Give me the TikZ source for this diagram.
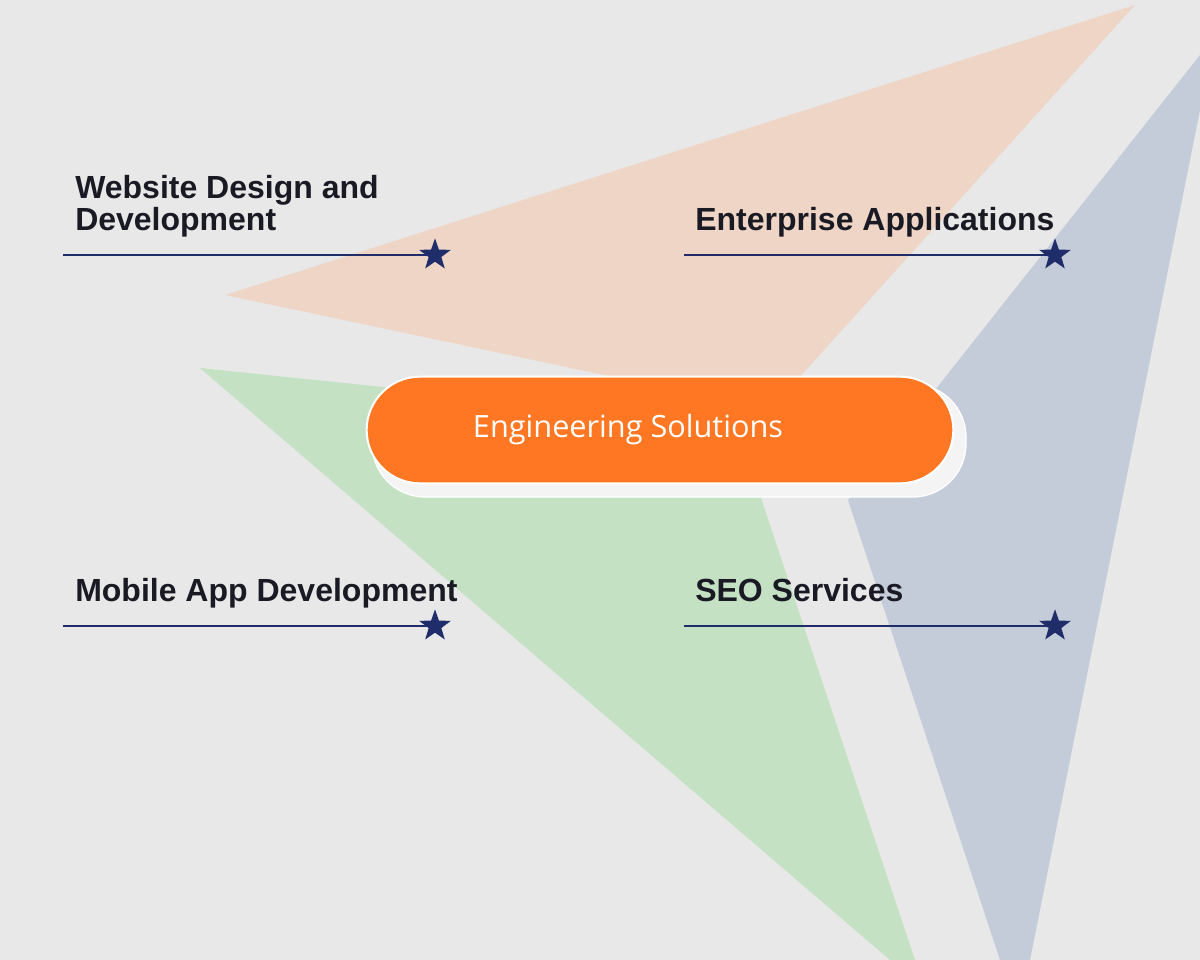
\documentclass[tikz,border=0pt]{standalone}
\usepackage{fontspec}
\setmainfont{Liberation Sans}
\newfontfamily\pillfont{Open Sans}
\usetikzlibrary{shapes.geometric}
\definecolor{bg}{HTML}{E8E8E8}
\definecolor{peach}{HTML}{EED5C6}
\definecolor{bluet}{HTML}{C5CCD9}
\definecolor{greent}{HTML}{C4E1C4}
\definecolor{orng}{HTML}{FF7722}
\definecolor{navy}{HTML}{1F2E6B}
\definecolor{ink}{HTML}{1A1A24}
\begin{document}
\begin{tikzpicture}[x=0.75pt,y=-0.75pt,
  lbl/.style={anchor=base west,inner sep=0,text=ink,font=\fontsize{24}{24}\selectfont\bfseries,align=left},
  st/.style={star,star points=5,star point ratio=2.5,fill=navy,draw=none,minimum size=25pt,inner sep=0},
  ln/.style={draw=navy,line width=1.3pt}]
\fill[bg] (0,0) rectangle (1200,960);
\useasboundingbox (0,0) rectangle (1200,960);
\fill[peach] (225,295) -- (1135,5) -- (770,410) -- cycle;
\fill[bluet] (1200,55) -- (848,500) -- (1000,960) -- (1030,960) -- (1200,110) -- cycle;
\fill[greent] (200,368) -- (700,420) -- (760,495) -- (915,960) -- (890,960) -- cycle;
\fill[white!50!bg,draw=white,line width=1pt,rounded corners=40pt] (372,384) rectangle (966,497);
\node[fill=orng,draw=white,line width=1.5pt,rounded corners=40pt,minimum width=440pt,minimum height=80pt,text=white,font=\pillfont\fontsize{23}{24}\selectfont] (pill) at (660,430) {\hspace*{-48pt}Engineering Solutions};
\node[lbl] (t1) at (75,230) {Website Design and\\Development};
\node[lbl] (t2) at (695,230) {Enterprise Applications};
\node[lbl] (t3) at (75,601) {Mobile App Development};
\node[lbl] (t4) at (695,601) {SEO Services};
\coordinate (a1) at (63,255); \node[st] (s1) at (435,255) {};
\coordinate (a2) at (684,255); \node[st] (s2) at (1055,255) {};
\coordinate (a3) at (63,626); \node[st] (s3) at (435,626) {};
\coordinate (a4) at (684,626); \node[st] (s4) at (1055,626) {};
\draw[ln] (a1) -- (s1.center); \draw[ln] (a2) -- (s2.center);
\draw[ln] (a3) -- (s3.center); \draw[ln] (a4) -- (s4.center);
\end{tikzpicture}
\end{document}
